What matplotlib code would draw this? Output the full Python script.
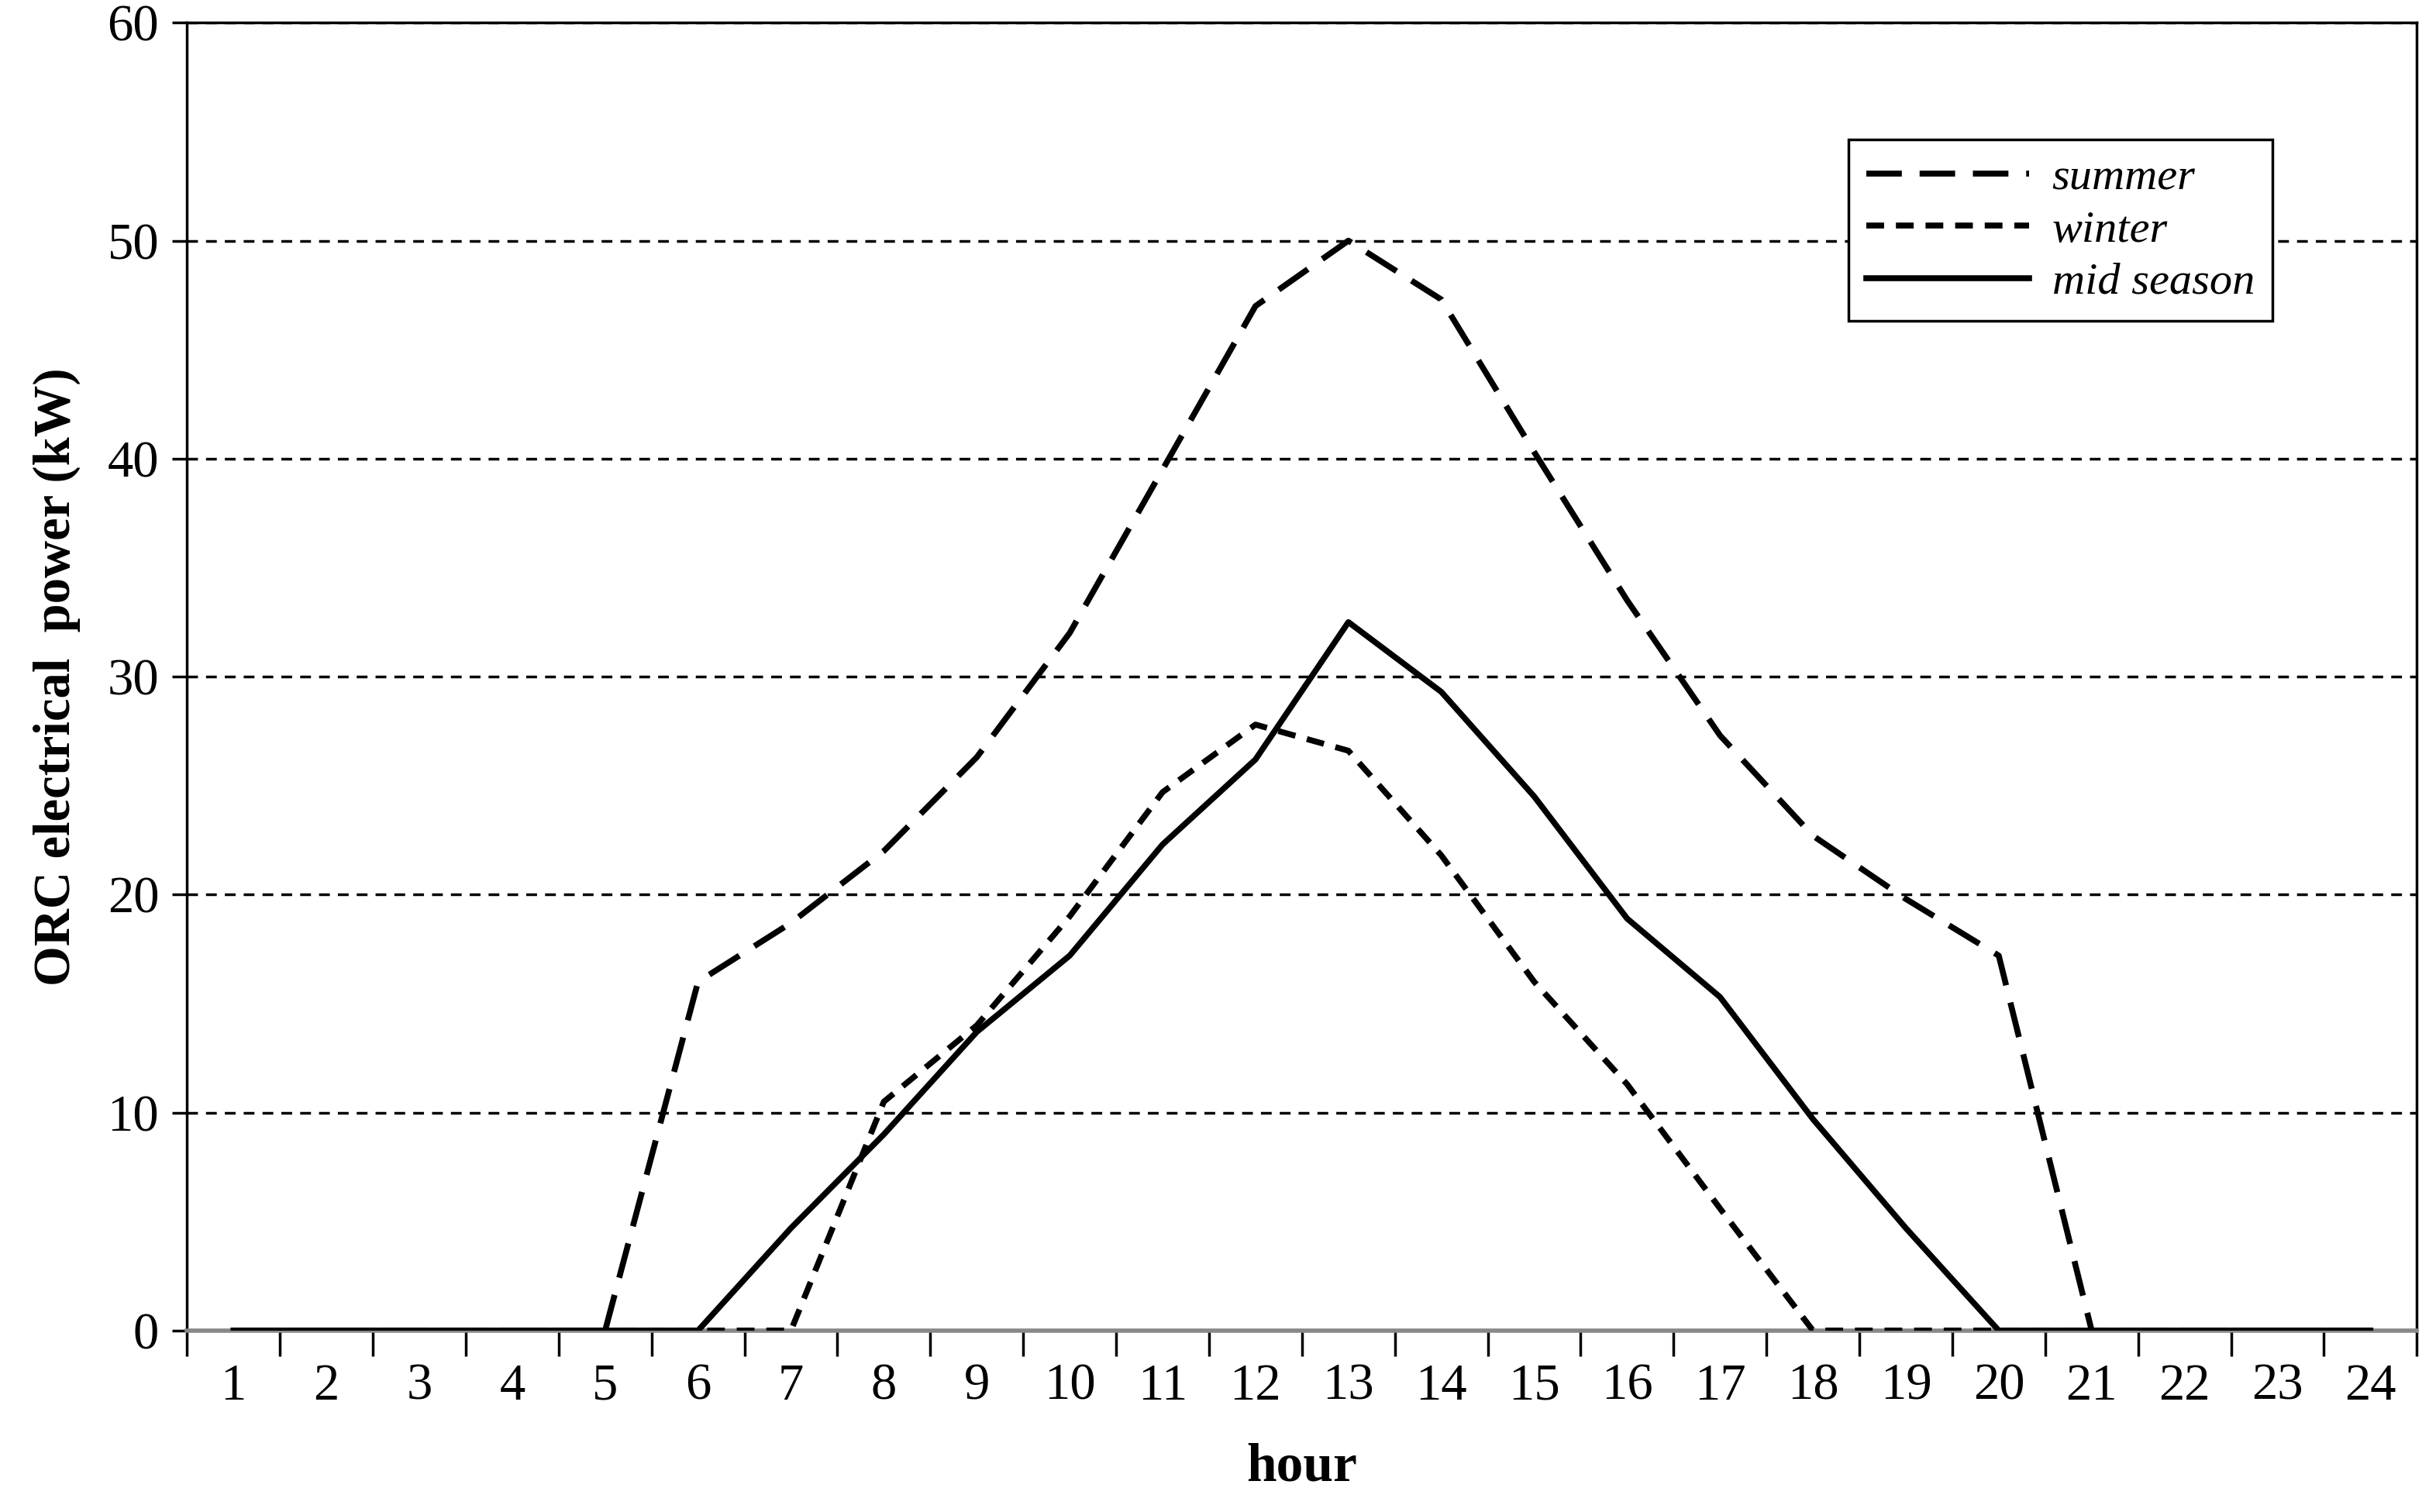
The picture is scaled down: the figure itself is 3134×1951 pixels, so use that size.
import matplotlib
matplotlib.use("Agg")
import matplotlib.pyplot as plt

hours = list(range(1, 25))
summer = [0,0,0,0,0,16,18.7,22,26.3,32,39.5,47,50,47.3,40.3,33.5,27.3,22.7,19.8,17.2,0,0,0,0]
winter = [0,0,0,0,0,0,0,10.5,14,19,24.7,27.8,26.6,21.8,16,11.3,5.6,0,0,0,0,0,0,0]
mid = [0,0,0,0,0,0,4.7,9,13.7,17.2,22.3,26.2,32.5,29.3,24.5,18.9,15.3,9.7,4.7,0,0,0,0,0]

plt.rcParams['font.family'] = ['Liberation Serif', 'DejaVu Serif']
fig = plt.figure(figsize=(31.34, 19.51), dpi=100)
ax = fig.add_axes([0.077, 0.12, 0.918, 0.865])

for y in range(10, 70, 10):
    ax.axhline(y, color='black', lw=2.5, ls=(0, (4, 3)), zorder=1)

ax.plot(hours, summer, color='black', lw=5.5, ls=(0, (6, 3)), label='summer', zorder=3)
ax.plot(hours, winter, color='black', lw=5.5, ls=(0, (3, 2)), label='winter', zorder=3)
ax.plot(hours, mid, color='black', lw=5.5, ls='-', label='mid season', zorder=3)

ax.set_xlim(0.5, 24.5)
ax.set_ylim(0, 60)
ax.set_xticks(hours)
ax.set_xticks([h + 0.5 for h in range(0, 25)], minor=True)
ax.tick_params(axis='x', which='major', length=0, labelsize=48, pad=30)
ax.tick_params(axis='x', which='minor', length=24, width=2.5, direction='out')
ax.set_yticks(range(0, 70, 10))
ax.tick_params(axis='y', which='major', length=14, width=2.5, labelsize=48, pad=12)
for s in ax.spines.values():
    s.set_linewidth(2.5)
ax.spines['bottom'].set_color('#888888')
ax.spines['bottom'].set_linewidth(4)

ax.set_xlabel('hour', fontsize=50, fontweight='bold', labelpad=30)
ax.set_ylabel('ORC electrical  power (kW)', fontsize=48, fontweight='bold', labelpad=25)

leg = ax.legend(loc='upper left', bbox_to_anchor=(0.735, 0.928),
                prop={'style': 'italic', 'size': 42}, handlelength=3.6,
                frameon=True, fancybox=False, edgecolor='black', facecolor='white',
                framealpha=1, borderpad=0.4, labelspacing=0.25, handletextpad=0.5)
leg.get_frame().set_linewidth(2.5)
leg.set_zorder(5)

fig.savefig('out.png', dpi=100)
